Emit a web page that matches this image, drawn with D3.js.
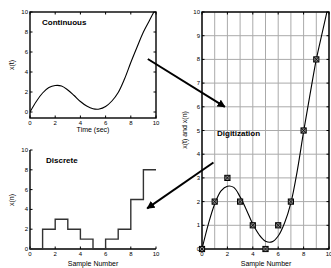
<!DOCTYPE html>
<html>
<head>
<meta charset="utf-8">
<script src="https://cdn.jsdelivr.net/npm/d3@7"></script>
<style>
    body { margin: 0; background: #fff; }
    text { font-family: "Liberation Sans", Arial, sans-serif; fill: #000; }
</style>
</head>
<body>
<svg width="331" height="268"></svg>
<script>
// continuous signal
let timeSec = [0, 0.5, 1, 1.5, 2, 2.5, 3, 3.5, 4, 4.5, 5, 5.5, 6, 6.5, 7, 7.5, 8, 8.5, 9, 9.5, 10]
let xt = [0, 1.05, 1.9, 2.45, 2.65, 2.6, 2.2, 1.65, 1.05, 0.6, 0.33, 0.3, 0.55, 1.1, 1.95, 3.3, 4.95, 6.5, 8.0, 9.2, 10.4]
// digitized samples
let sampleN = [0, 1, 2, 3, 4, 5, 6, 7, 8, 9]
let xn = [0, 2, 3, 2, 1, 0, 1, 2, 5, 8]

let ticksEven = [0, 2, 4, 6, 8, 10]
let ticksAll = [0, 1, 2, 3, 4, 5, 6, 7, 8, 9, 10]

let svg = d3.select('svg')

let curve = timeSec.map((t, i) => ({ x: t, y: xt[i] }))
let samples = sampleN.map((n, i) => ({ x: n, y: xn[i] }))
let steps = samples.concat([{ x: 10, y: xn[xn.length - 1] }])

let panels = {
    cont: { x: d3.scaleLinear().domain([0, 10]).range([30, 156]), y: d3.scaleLinear().domain([-0.6, 10]).range([118, 12]) },
    disc: { x: d3.scaleLinear().domain([0, 10]).range([30, 156]), y: d3.scaleLinear().domain([0, 10]).range([249, 150]) },
    digi: { x: d3.scaleLinear().domain([0, 10]).range([202, 329]), y: d3.scaleLinear().domain([0, 10]).range([249, 12]) }
}

function drawAxes(p, xticks, yticks, box) {
    let g = svg.append('g')
    let [x0, x1] = p.x.range(), [y0, y1] = p.y.range()
    let tl = 2.5

    g.selectAll('line.xt')
        .data(xticks)
        .enter()
        .append('line')
        .attr('x1', d => p.x(d)).attr('x2', d => p.x(d))
        .attr('y1', y0).attr('y2', y0 - tl)
        .attr('stroke', '#000')
    g.selectAll('line.yt')
        .data(yticks)
        .enter()
        .append('line')
        .attr('x1', x0).attr('x2', x0 + tl)
        .attr('y1', d => p.y(d)).attr('y2', d => p.y(d))
        .attr('stroke', '#000')
    if (box) {
        g.selectAll('line.xt2')
            .data(xticks)
            .enter()
            .append('line')
            .attr('x1', d => p.x(d)).attr('x2', d => p.x(d))
            .attr('y1', y1).attr('y2', y1 + tl)
            .attr('stroke', '#000')
        g.selectAll('line.yt2')
            .data(yticks)
            .enter()
            .append('line')
            .attr('x1', x1).attr('x2', x1 - tl)
            .attr('y1', d => p.y(d)).attr('y2', d => p.y(d))
            .attr('stroke', '#000')
        g.append('rect')
            .attr('x', x0).attr('y', y1)
            .attr('width', x1 - x0).attr('height', y0 - y1)
            .attr('fill', 'none').attr('stroke', '#000').attr('stroke-width', 1.4)
    } else {
        g.append('path')
            .attr('d', `M${x0},${y1}V${y0}H${x1}`)
            .attr('fill', 'none').attr('stroke', '#000').attr('stroke-width', 1.4)
    }

    g.selectAll('text.xl')
        .data(xticks)
        .enter()
        .append('text')
        .text(d => d)
        .attr('x', d => p.x(d))
        .attr('y', y0 + 7)
        .attr('text-anchor', 'middle')
        .attr('font-size', 6)
    g.selectAll('text.yl')
        .data(yticks)
        .enter()
        .append('text')
        .text(d => d)
        .attr('x', x0 - 2)
        .attr('y', d => p.y(d) + 2)
        .attr('text-anchor', 'end')
        .attr('font-size', 6)
}

function label(txt, x, y, size, bold, rot) {
    svg.append('text')
        .text(txt)
        .attr('transform', `translate(${x},${y})` + (rot ? ' rotate(-90)' : ''))
        .attr('text-anchor', bold ? 'start' : 'middle')
        .attr('font-size', size)
        .attr('font-weight', bold ? 'bold' : 'normal')
}

// grid on digitization panel
let pd = panels.digi
svg.append('g').selectAll('line')
    .data(ticksAll)
    .enter()
    .append('line')
    .attr('x1', d => pd.x(d)).attr('x2', d => pd.x(d))
    .attr('y1', pd.y(0)).attr('y2', pd.y(10))
    .attr('stroke', '#aaa')
svg.append('g').selectAll('line')
    .data(ticksAll)
    .enter()
    .append('line')
    .attr('x1', pd.x(0)).attr('x2', pd.x(10))
    .attr('y1', d => pd.y(d)).attr('y2', d => pd.y(d))
    .attr('stroke', '#aaa')

drawAxes(panels.cont, ticksEven, ticksEven, true)
drawAxes(panels.disc, ticksEven, ticksEven, false)
drawAxes(panels.digi, ticksEven, ticksAll, true)

// clip paths
let defs = svg.append('defs')
for (let k of ['cont', 'digi']) {
    let p = panels[k]
    defs.append('clipPath').attr('id', 'clip-' + k)
        .append('rect')
        .attr('x', p.x.range()[0]).attr('y', p.y.range()[1])
        .attr('width', p.x.range()[1] - p.x.range()[0])
        .attr('height', p.y.range()[0] - p.y.range()[1])
}

for (let k of ['cont', 'digi']) {
    let p = panels[k]
    let line = d3.line().x(d => p.x(d.x)).y(d => p.y(d.y)).curve(d3.curveCatmullRom)
    svg.append('path')
        .datum(curve)
        .attr('clip-path', `url(#clip-${k})`)
        .attr('d', line)
        .attr('fill', 'none')
        .attr('stroke', '#000')
        .attr('stroke-width', 1.1)
}

let pdis = panels.disc
svg.append('path')
    .datum(steps)
    .attr('d', d3.line().x(d => pdis.x(d.x)).y(d => pdis.y(d.y)).curve(d3.curveStepAfter))
    .attr('fill', 'none')
    .attr('stroke', '#333')
    .attr('stroke-width', 1.4)

// sample markers
let m = svg.append('g').selectAll('g')
    .data(samples)
    .enter()
    .append('g')
    .attr('transform', d => `translate(${pd.x(d.x)},${pd.y(d.y)})`)
m.append('rect')
    .attr('x', -2.6).attr('y', -2.6)
    .attr('width', 5.2).attr('height', 5.2)
    .attr('fill', '#888')
    .attr('stroke', '#000')
    .attr('stroke-width', 1)
m.append('path')
    .attr('d', 'M-2.3,-2.3L2.3,2.3M-2.3,2.3L2.3,-2.3')
    .attr('stroke', '#000')
    .attr('stroke-width', 0.8)

// arrows
defs.append('marker')
    .attr('id', 'head')
    .attr('viewBox', '0 0 10 10')
    .attr('refX', 9).attr('refY', 5)
    .attr('markerWidth', 4).attr('markerHeight', 4)
    .attr('orient', 'auto')
    .append('path')
    .attr('d', 'M0,0L10,5L0,10z')
    .attr('fill', '#000')

let pc = panels.cont
let arrows = [
    [pc.x(9.35), pc.y(5.3), pd.x(1.8), pd.y(6.0)],
    [pd.x(0.9), pd.y(3.65), pdis.x(9.3), pdis.y(4.1)]
]
svg.selectAll('line.arrow')
    .data(arrows)
    .enter()
    .append('line')
    .attr('x1', d => d[0]).attr('y1', d => d[1])
    .attr('x2', d => d[2]).attr('y2', d => d[3])
    .attr('stroke', '#000')
    .attr('stroke-width', 2)
    .attr('marker-end', 'url(#head)')

label('Continuous', 42, 25, 8, true)
label('Discrete', 46, 163, 8, true)
label('Digitization', 217, 136, 8, true)
label('Time (sec)', 93, 132, 7, false)
label('Sample Number', 93, 266, 7, false)
label('Sample Number', 266, 266, 7, false)
label('x(t)', 14, 65, 7, false, true)
label('x(n)', 14, 200, 7, false, true)
label('x(t) and x(n)', 187, 130, 7, false, true)
</script>
</body>
</html>
